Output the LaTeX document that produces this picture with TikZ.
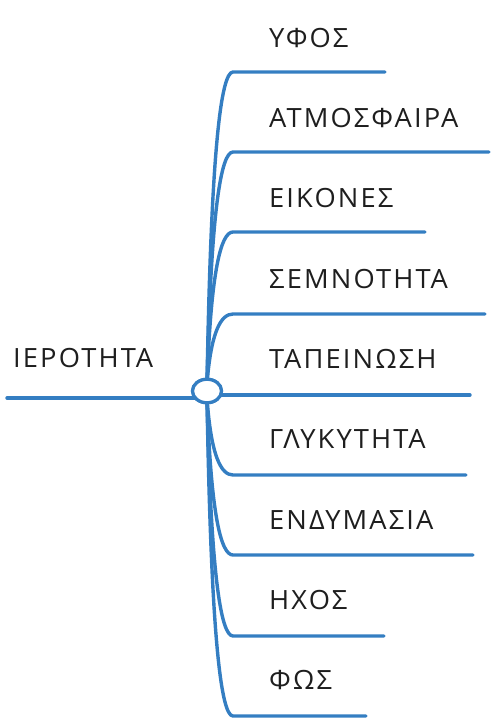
\documentclass[tikz,border=0pt]{standalone}
\usepackage{fontspec}
\setmainfont{Open Sans}[LetterSpace=8,FakeStretch=1.03]
\usetikzlibrary{shapes.geometric}
\definecolor{mapblue}{RGB}{52,126,194}
\definecolor{txt}{RGB}{30,30,30}
\begin{document}
\begin{tikzpicture}[x=1pt,y=-1pt,
  branch/.style={draw=mapblue,line width=3.4pt,line cap=round},
  lbl/.style={anchor=base west,inner sep=0pt,text=txt,font=\fontsize{26.5}{30}\selectfont},
  hub/.style={ellipse,draw=mapblue,line width=3.2pt,fill=white,minimum width=29pt,minimum height=23.5pt,inner sep=0pt}]
\useasboundingbox (0,0) rectangle (491,718);
\node[hub] (c) at (207,391) {};
\coordinate (ct) at (207,384);
\coordinate (cb) at (207,398);
% branch coordinates
\foreach \i/\y/\xe in {1/72/385,2/152/489,3/232/425,4/314/485}{
  \coordinate (s\i) at (233,\y);
  \coordinate (e\i) at (\xe,\y);
}
\foreach \i/\y/\xe in {6/475/466,7/555/473,8/636/384,9/716/366}{
  \coordinate (s\i) at (233,\y);
  \coordinate (e\i) at (\xe,\y);
}
\coordinate (l0) at (7,398);
\coordinate (r0) at (470,395);
% upper curves
\foreach \i/\y in {1/72,2/152,3/232,4/314}{
  \pgfmathsetmacro{\cy}{\y+0.25*(384-\y)}
  \draw[branch] (ct) .. controls (211,\cy) and (221,\y) .. (s\i) -- (e\i);
}
% lower curves
\foreach \i/\y in {6/475,7/555,8/636,9/716}{
  \pgfmathsetmacro{\cy}{\y-0.25*(\y-398)}
  \draw[branch] (cb) .. controls (211,\cy) and (221,\y) .. (s\i) -- (e\i);
}
\draw[branch] (l0) -- (c.center |- l0);
\draw[branch] (c.center |- r0) -- (r0);
\node[hub] at (c) {};
% labels
\node[lbl] (t1) at (269,47) {ΥΦΟΣ};
\node[lbl] (t2) at (269,127) {ΑΤΜΟΣΦΑΙΡΑ};
\node[lbl] (t3) at (269,207) {ΕΙΚΟΝΕΣ};
\node[lbl] (t4) at (269,288) {ΣΕΜΝΟΤΗΤΑ};
\node[lbl] (t5) at (269,368) {ΤΑΠΕΙΝΩΣΗ};
\node[lbl] (t6) at (269,448) {ΓΛΥΚΥΤΗΤΑ};
\node[lbl] (t7) at (269,529) {ΕΝΔΥΜΑΣΙΑ};
\node[lbl] (t8) at (269,609) {ΗΧΟΣ};
\node[lbl] (t9) at (269,689) {ΦΩΣ};
\node[lbl] (t0) at (13,367) {ΙΕΡΟΤΗΤΑ};
\end{tikzpicture}
\end{document}
